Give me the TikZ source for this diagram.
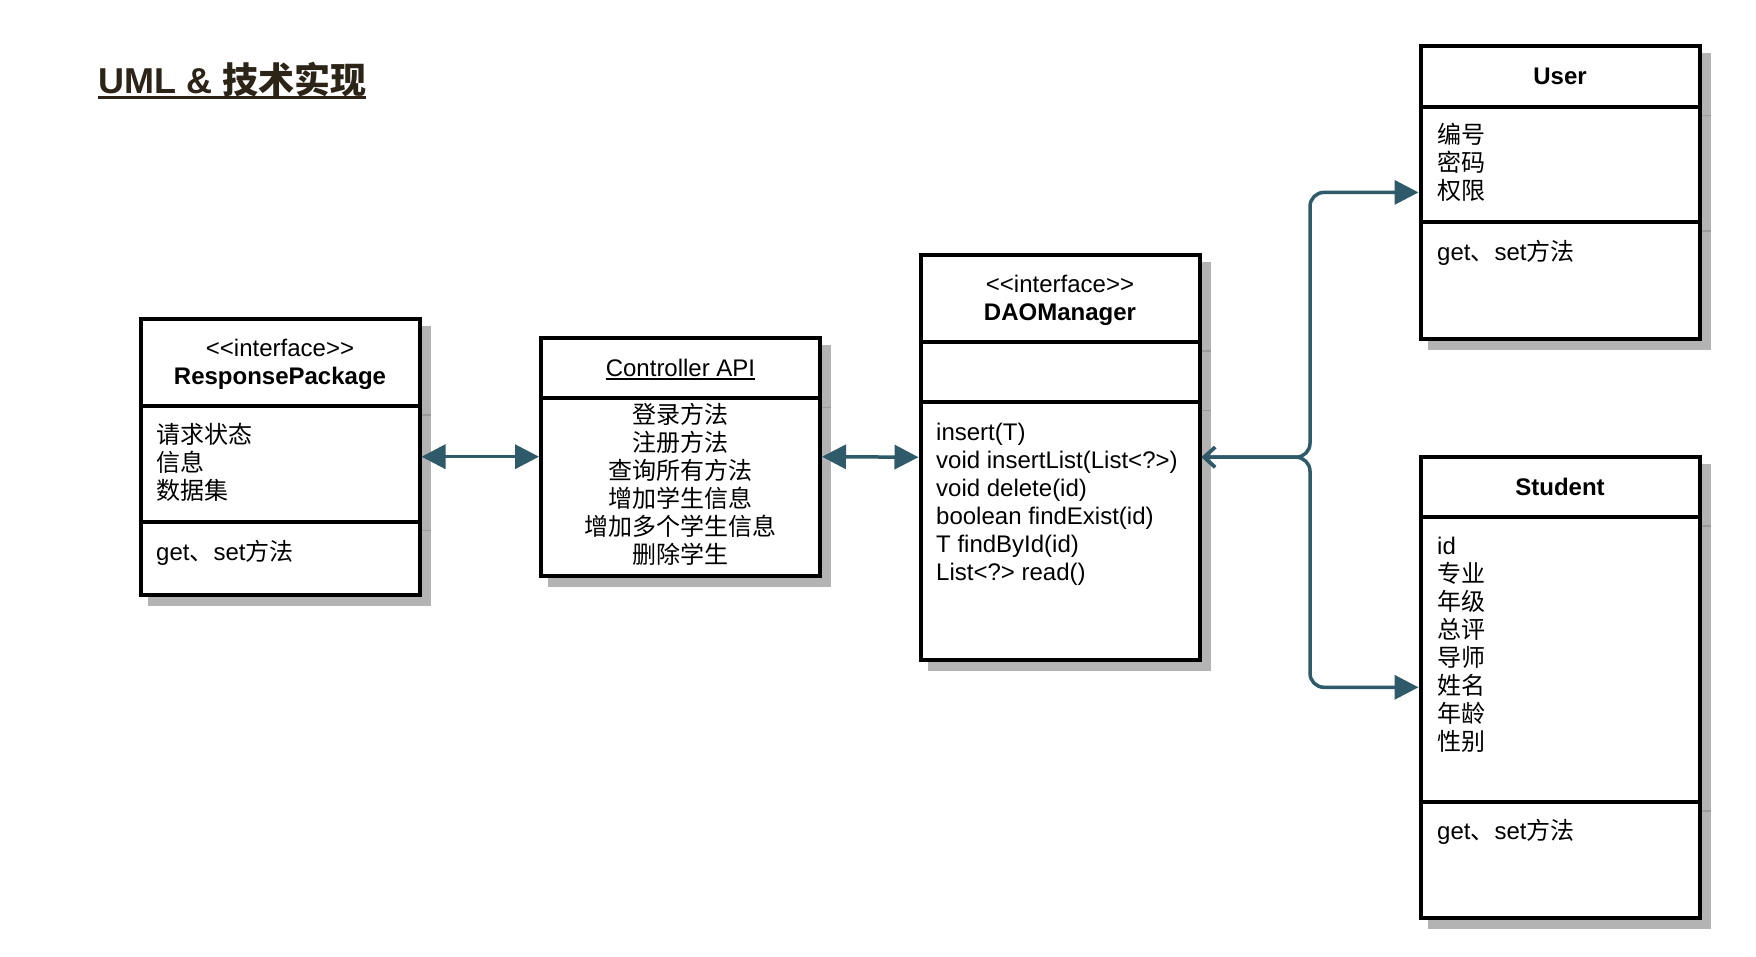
\documentclass[tikz,border=0pt]{standalone}
\usepackage{fontspec}
\setmainfont{Liberation Sans}
\newfontfamily\cjk{Noto Sans CJK SC}
\usetikzlibrary{arrows.meta,backgrounds}
\definecolor{conncol}{HTML}{2E5A6A}
\definecolor{shadowcol}{HTML}{B3B3B3}
\definecolor{stubcol}{HTML}{9A9A9A}
\definecolor{titlecol}{HTML}{2D2418}
\tikzset{
  fattip/.tip={Triangle[length=24pt,width=24pt]},
  barbtip/.tip={Straight Barb[length=11pt,width=20pt]}
}
\begin{document}
\begin{tikzpicture}[x=1pt,y=-1pt,
  box/.style={draw=black, line width=4pt, fill=white, inner sep=0pt, rectangle, minimum width=279pt},
  sepline/.style={draw=black, line width=4pt},
  stub/.style={draw=stubcol, line width=1.5pt},
  shadowbox/.style={fill=shadowcol},
  conn/.style={draw=conncol, line width=3.5pt},
  txt/.style={inner sep=0pt, font=\fontsize{24}{28}\selectfont},
  txtb/.style={inner sep=0pt, font=\fontsize{24}{28}\selectfont\bfseries},
  titletxt/.style={inner sep=0pt, text=titlecol, font=\fontsize{36}{40}\selectfont\bfseries}
]
\useasboundingbox (0,0) rectangle (1756,956);

% ---------- title ----------
\node[titletxt, anchor=base west] (title) at (98,93) {UML \& {\cjk 技术实现}};
\draw[titlecol, line width=3pt] ([yshift=-4pt]title.base west) -- ([yshift=-4pt]title.base east);

% ---------- boxes ----------
\node[box, minimum height=276pt] (rp) at (280,456.7) {};
\node[box, minimum height=238pt] (ctrl) at (680.5,456.7) {};
\node[box, minimum height=405pt] (dao) at (1060,457.2) {};
\node[box, minimum height=292.8pt] (user) at (1560,192.4) {};
\node[box, minimum height=461pt] (stu) at (1560,687.3) {};

% ---------- shadows ----------
\begin{scope}[on background layer]
  \fill[white] (0,0) rectangle (1756,956);
  \foreach \b in {rp,ctrl,dao,user,stu}
    \fill[shadowbox] ([shift={(9pt,-9pt)}]\b.south west) rectangle ([shift={(9pt,-9pt)}]\b.north east);
\end{scope}

% ---------- separators ----------
\draw[sepline] (rp.west |- 0,406) -- (rp.east |- 0,406);
\draw[sepline] (rp.west |- 0,521.7) -- (rp.east |- 0,521.7);
\draw[stub] (rp.east |- 0,415) -- ++(9pt,0);
\draw[stub] (rp.east |- 0,530.7) -- ++(9pt,0);

\draw[sepline] (ctrl.west |- 0,398.3) -- (ctrl.east |- 0,398.3);
\draw[stub] (ctrl.east |- 0,407.3) -- ++(9pt,0);

\draw[sepline] (dao.west |- 0,342.2) -- (dao.east |- 0,342.2);
\draw[sepline] (dao.west |- 0,401.7) -- (dao.east |- 0,401.7);
\draw[stub] (dao.east |- 0,351.2) -- ++(9pt,0);
\draw[stub] (dao.east |- 0,410.7) -- ++(9pt,0);

\draw[sepline] (user.west |- 0,106.6) -- (user.east |- 0,106.6);
\draw[sepline] (user.west |- 0,222.2) -- (user.east |- 0,222.2);
\draw[stub] (user.east |- 0,115.6) -- ++(9pt,0);
\draw[stub] (user.east |- 0,231.2) -- ++(9pt,0);

\draw[sepline] (stu.west |- 0,517.2) -- (stu.east |- 0,517.2);
\draw[sepline] (stu.west |- 0,802.2) -- (stu.east |- 0,802.2);
\draw[stub] (stu.east |- 0,526.2) -- ++(9pt,0);
\draw[stub] (stu.east |- 0,811.2) -- ++(9pt,0);

% ---------- ResponsePackage ----------
\node[txt, anchor=base] (rph1) at (280,356) {<\kern0pt<interface>\kern0pt>};
\node[txtb, anchor=base] (rph2) at (280,384) {ResponsePackage};
\node[txt, anchor=base west] (rpa1) at (156,443) {{\cjk 请求状态}};
\node[txt, anchor=base west] (rpa2) at (156,471) {{\cjk 信息}};
\node[txt, anchor=base west] (rpa3) at (156,499) {{\cjk 数据集}};
\node[txt, anchor=base west] (rpm1) at (156,560) {get{\cjk 、}set{\cjk 方法}};

% ---------- Controller API ----------
\node[txt, anchor=base] (ch) at (680.5,376) {Controller API};
\draw[black, line width=1.5pt] ([yshift=-3pt]ch.base west) -- ([yshift=-3pt]ch.base east);
\node[txt, anchor=base] (cm1) at (680.5,423) {{\cjk 登录方法}};
\node[txt, anchor=base] (cm2) at (680.5,451) {{\cjk 注册方法}};
\node[txt, anchor=base] (cm3) at (680.5,479) {{\cjk 查询所有方法}};
\node[txt, anchor=base] (cm4) at (680.5,507) {{\cjk 增加学生信息}};
\node[txt, anchor=base] (cm5) at (680.5,535) {{\cjk 增加多个学生信息}};
\node[txt, anchor=base] (cm6) at (680.5,563) {{\cjk 删除学生}};

% ---------- DAOManager ----------
\node[txt, anchor=base] (dh1) at (1060,292) {<\kern0pt<interface>\kern0pt>};
\node[txtb, anchor=base] (dh2) at (1060,320) {DAOManager};
\node[txt, anchor=base west] (dm1) at (936,440) {insert(T)};
\node[txt, anchor=base west] (dm2) at (936,468) {void insertList(List<?>)};
\node[txt, anchor=base west] (dm3) at (936,496) {void delete(id)};
\node[txt, anchor=base west] (dm4) at (936,524) {boolean findExist(id)};
\node[txt, anchor=base west] (dm5) at (936,552) {T findById(id)};
\node[txt, anchor=base west] (dm6) at (936,580) {List<?> read()};

% ---------- User ----------
\node[txtb, anchor=base] (uh) at (1560,84) {User};
\node[txt, anchor=base west] (ua1) at (1437,143) {{\cjk 编号}};
\node[txt, anchor=base west] (ua2) at (1437,171) {{\cjk 密码}};
\node[txt, anchor=base west] (ua3) at (1437,199) {{\cjk 权限}};
\node[txt, anchor=base west] (um1) at (1437,260.5) {get{\cjk 、}set{\cjk 方法}};

% ---------- Student ----------
\node[txtb, anchor=base] (sh) at (1560,495) {Student};
\node[txt, anchor=base west] (sa1) at (1437,554) {id};
\node[txt, anchor=base west] (sa2) at (1437,582) {{\cjk 专业}};
\node[txt, anchor=base west] (sa3) at (1437,610) {{\cjk 年级}};
\node[txt, anchor=base west] (sa4) at (1437,638) {{\cjk 总评}};
\node[txt, anchor=base west] (sa5) at (1437,666) {{\cjk 导师}};
\node[txt, anchor=base west] (sa6) at (1437,694) {{\cjk 姓名}};
\node[txt, anchor=base west] (sa7) at (1437,722) {{\cjk 年龄}};
\node[txt, anchor=base west] (sa8) at (1437,750) {{\cjk 性别}};
\node[txt, anchor=base west] (sm1) at (1437,839) {get{\cjk 、}set{\cjk 方法}};

% ---------- connectors ----------
\draw[conn, {fattip}-{fattip}] (rp.east) -- (ctrl.west);
\draw[conn, {fattip}-{fattip}] (ctrl.east) -- (dao.west);
\coordinate (jn) at (1310,457.2);
\draw[conn, rounded corners=14pt, {barbtip}-{fattip}] (dao.east) -- (jn) |- (user.west);
\draw[conn, rounded corners=14pt, {barbtip}-{fattip}] (dao.east) -- (jn) |- (stu.west);
\end{tikzpicture}
\end{document}
